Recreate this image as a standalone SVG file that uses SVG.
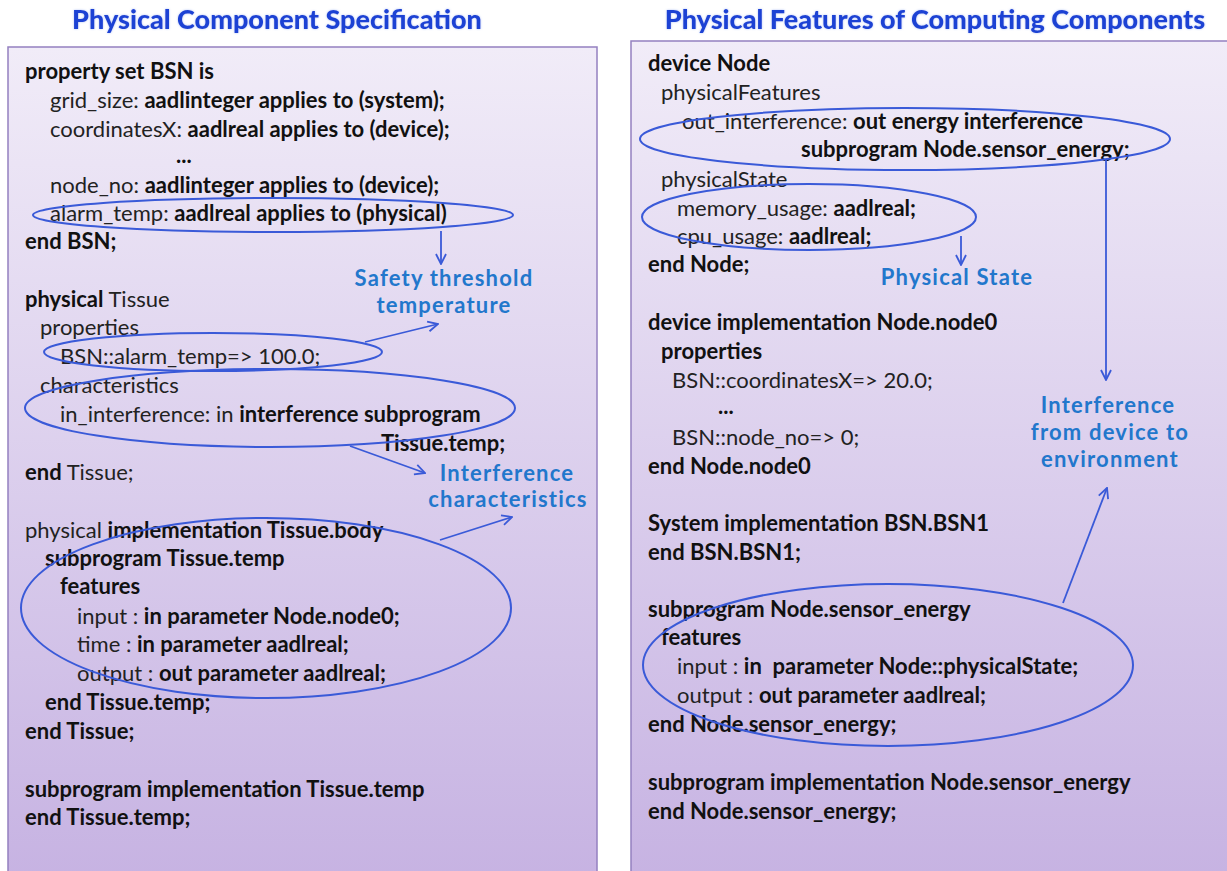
<svg xmlns="http://www.w3.org/2000/svg" width="1227" height="871" viewBox="0 0 1227 871">
  <defs>
    <linearGradient id="panelFill" x1="0" y1="0" x2="0" y2="1">
      <stop offset="0" stop-color="#f1ecf8"/>
      <stop offset="1" stop-color="#c6b2e2"/>
    </linearGradient>
    <filter id="soft" x="-5%" y="-30%" width="110%" height="160%">
      <feGaussianBlur in="SourceAlpha" stdDeviation="1.2" result="b"/>
      <feFlood flood-color="#7f9cf0" flood-opacity="0.6"/>
      <feComposite in2="b" operator="in" result="glow"/>
      <feMerge><feMergeNode in="glow"/><feMergeNode in="SourceGraphic"/></feMerge>
    </filter>
    <marker id="chev" viewBox="0 0 12 12" refX="11" refY="6" markerWidth="12" markerHeight="12" markerUnits="userSpaceOnUse" orient="auto">
      <path d="M1,1 L11,6 L1,11" fill="none" stroke="#3a5ad8" stroke-width="1.8"/>
    </marker>
    <style>
      .panel { fill: url(#panelFill); stroke: #9480c0; stroke-width: 1.5; }
      .title { font-family: Lato, "Open Sans", sans-serif; font-weight: 900; font-size: 27px; fill: #1d43d4; text-anchor: middle; }
      .code { font-family: Lato, "Liberation Sans", sans-serif; font-size: 22px; fill: #222; }
      .b { font-weight: bold; fill: #111; }
      .note { font-family: Lato, "Open Sans", sans-serif; font-weight: bold; font-size: 22px; letter-spacing: 1.2px; fill: #2277cc; text-anchor: middle; }
      .ring { fill: none; stroke: #3a5ad8; stroke-width: 2; }
      .link { fill: none; stroke: #3a5ad8; stroke-width: 1.8; marker-end: url(#chev); }
    </style>
  </defs>

  <rect width="1227" height="871" fill="#ffffff"/>

  <!-- left panel: physical component specification -->
  <g id="physical-spec">
    <text class="title" x="277" y="29" filter="url(#soft)">Physical Component Specification</text>
    <rect class="panel" x="8" y="47" width="589" height="840"/>
    <g class="code">
      <text x="25" y="79" class="b">property set BSN is</text>
      <text x="50" y="108">grid_size: <tspan class="b">aadlinteger applies to (system);</tspan></text>
      <text x="50" y="137">coordinatesX: <tspan class="b">aadlreal applies to (device);</tspan></text>
      <text x="176" y="163" class="b">...</text>
      <text x="50" y="193">node_no: <tspan class="b">aadlinteger applies to (device);</tspan></text>
      <text x="50" y="221">alarm_temp: <tspan class="b">aadlreal applies to (physical)</tspan></text>
      <text x="25" y="249" class="b">end BSN;</text>

      <text x="25" y="307"><tspan class="b">physical</tspan> Tissue</text>
      <text x="40" y="335">properties</text>
      <text x="60" y="364">BSN::alarm_temp=&gt; 100.0;</text>
      <text x="40" y="393">characteristics</text>
      <text x="60" y="422">in_interference: in <tspan class="b">interference subprogram</tspan></text>
      <text x="381" y="451" class="b">Tissue.temp;</text>
      <text x="25" y="480"><tspan class="b">end</tspan> Tissue;</text>

      <text x="25" y="538">physical <tspan class="b">implementation Tissue.body</tspan></text>
      <text x="45" y="566" class="b">subprogram Tissue.temp</text>
      <text x="60" y="594" class="b">features</text>
      <text x="77" y="624">input : <tspan class="b">in parameter Node.node0;</tspan></text>
      <text x="77" y="652">time : <tspan class="b">in parameter aadlreal;</tspan></text>
      <text x="77" y="681">output : <tspan class="b">out parameter aadlreal;</tspan></text>
      <text x="45" y="710" class="b">end Tissue.temp;</text>
      <text x="25" y="739" class="b">end Tissue;</text>

      <text x="25" y="797" class="b">subprogram implementation Tissue.temp</text>
      <text x="25" y="825" class="b">end Tissue.temp;</text>
    </g>
  </g>

  <!-- right panel: physical features of computing components -->
  <g id="computing-features">
    <text class="title" x="935" y="29" filter="url(#soft)">Physical Features of Computing Components</text>
    <rect class="panel" x="631" y="41" width="610" height="846"/>
    <g class="code">
      <text x="648" y="71" class="b">device Node</text>
      <text x="661" y="100">physicalFeatures</text>
      <text x="682" y="129">out_interference: <tspan class="b">out energy interference</tspan></text>
      <text x="801" y="157" class="b">subprogram Node.sensor_energy;</text>
      <text x="661" y="187">physicalState</text>
      <text x="677" y="216">memory_usage: <tspan class="b">aadlreal;</tspan></text>
      <text x="677" y="244">cpu_usage: <tspan class="b">aadlreal;</tspan></text>
      <text x="648" y="272" class="b">end Node;</text>

      <text x="648" y="330" class="b">device implementation Node.node0</text>
      <text x="661" y="359" class="b">properties</text>
      <text x="672" y="388">BSN::coordinatesX=&gt; 20.0;</text>
      <text x="718" y="414" class="b">...</text>
      <text x="672" y="445">BSN::node_no=&gt; 0;</text>
      <text x="648" y="474" class="b">end Node.node0</text>

      <text x="648" y="531" class="b">System implementation BSN.BSN1</text>
      <text x="648" y="560" class="b">end BSN.BSN1;</text>

      <text x="648" y="617" class="b">subprogram Node.sensor_energy</text>
      <text x="661" y="645" class="b">features</text>
      <text x="677" y="674">input : <tspan class="b">in&#160; parameter Node::physicalState;</tspan></text>
      <text x="677" y="703">output : <tspan class="b">out parameter aadlreal;</tspan></text>
      <text x="648" y="732" class="b">end Node.sensor_energy;</text>

      <text x="648" y="790" class="b">subprogram implementation Node.sensor_energy</text>
      <text x="648" y="819" class="b">end Node.sensor_energy;</text>
    </g>
  </g>

  <!-- callout labels -->
  <g id="note-safety">
    <text class="note" x="444" y="286">Safety threshold</text>
    <text class="note" x="444" y="313">temperature</text>
  </g>
  <g id="note-interference">
    <text class="note" x="507" y="481">Interference</text>
    <text class="note" x="508" y="507">characteristics</text>
  </g>
  <g id="note-state">
    <text class="note" x="957" y="285">Physical State</text>
  </g>
  <g id="note-device">
    <text class="note" x="1108" y="413">Interference</text>
    <text class="note" x="1110" y="440">from device to</text>
    <text class="note" x="1110" y="467">environment</text>
  </g>

  <!-- highlight rings and their callout arrows -->
  <g id="connectors">
    <ellipse class="ring" cx="273" cy="215" rx="240" ry="17"/>
    <ellipse class="ring" cx="213" cy="352" rx="169" ry="19"/>
    <ellipse class="ring" cx="270" cy="408" rx="245" ry="39"/>
    <ellipse class="ring" cx="266" cy="608" rx="245" ry="90"/>
    <ellipse class="ring" cx="905" cy="139" rx="265" ry="31"/>
    <ellipse class="ring" cx="809" cy="217" rx="167" ry="33"/>
    <ellipse class="ring" cx="888" cy="665" rx="245" ry="81"/>

    <path class="link" d="M441,231 L441,264"/>
    <path class="link" d="M365,342 L438,324"/>
    <path class="link" d="M350,446 L425,473"/>
    <path class="link" d="M440,540 L512,517"/>
    <path class="link" d="M961,236 L961,265"/>
    <path class="link" d="M1106,160 L1106,380"/>
    <path class="link" d="M1063,603 L1107,488"/>
  </g>
</svg>
